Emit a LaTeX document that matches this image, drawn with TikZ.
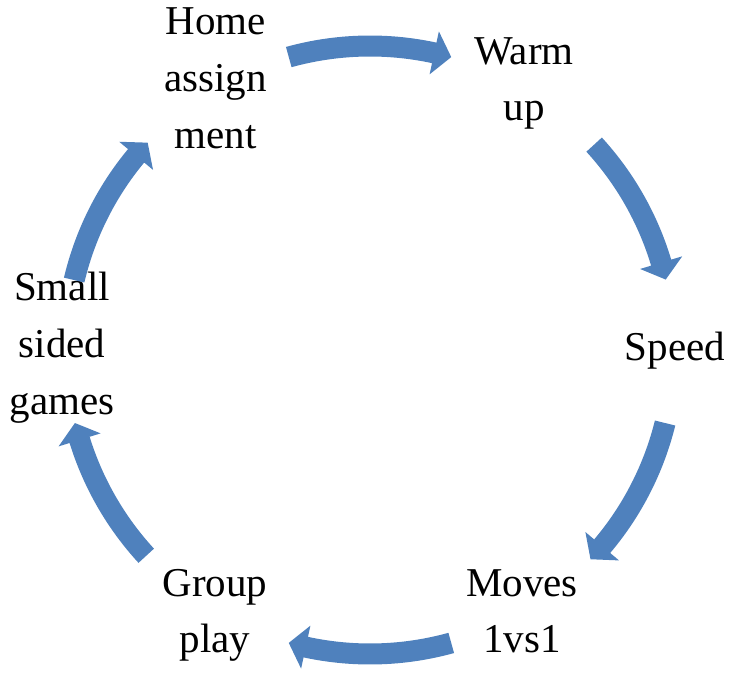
\documentclass[tikz,border=0pt]{standalone}
\usepackage{fontspec}
\setmainfont{Liberation Serif}
\definecolor{cycleblue}{HTML}{4F81BD}
\tikzset{
  lbl/.style={anchor=base, inner sep=0pt, font=\fontsize{41}{57}\selectfont, text=black},
  arrowfill/.style={fill=cycleblue, draw=none}
}
\begin{document}
\begin{tikzpicture}[x=1pt,y=1pt]
\useasboundingbox (0,0) rectangle (729,673);
% labels
\node[lbl] (home1) at (215.5,638) {Home};
\node[lbl] (home2) at (215.5,581) {assign};
\node[lbl] (home3) at (215.5,524) {ment};
\node[lbl] (warm1) at (524,608) {Warm};
\node[lbl] (warm2) at (524,552) {up};
\node[lbl] (speed) at (675,312) {Speed};
\node[lbl] (moves1) at (522,77) {Moves};
\node[lbl] (moves2) at (522,20.5) {1vs1};
\node[lbl] (group1) at (215,77) {Group};
\node[lbl] (group2) at (215,20.5) {play};
\node[lbl] (small1) at (62,372) {Small};
\node[lbl] (small2) at (62,315) {sided};
\node[lbl] (small3) at (62,258) {games};
% circular block arrows
\begin{scope}[shift={(370,323)}]
\foreach \s/\t in {105.5/74.5, 42.5/13.4, -13.9/-43.5, -74.5/-105.5, -137.4/-166.1, 166.7/137}{
  \pgfmathsetmacro\b{\t+3.3}
  \fill[arrowfill] (\s:314.5) arc[start angle=\s, end angle=\b, radius=314.5]
    -- (\b:326) -- (\t:304) -- (\b:282) -- (\b:293.5)
    arc[start angle=\b, end angle=\s, radius=293.5] -- cycle;
}
\end{scope}
\end{tikzpicture}
\end{document}
